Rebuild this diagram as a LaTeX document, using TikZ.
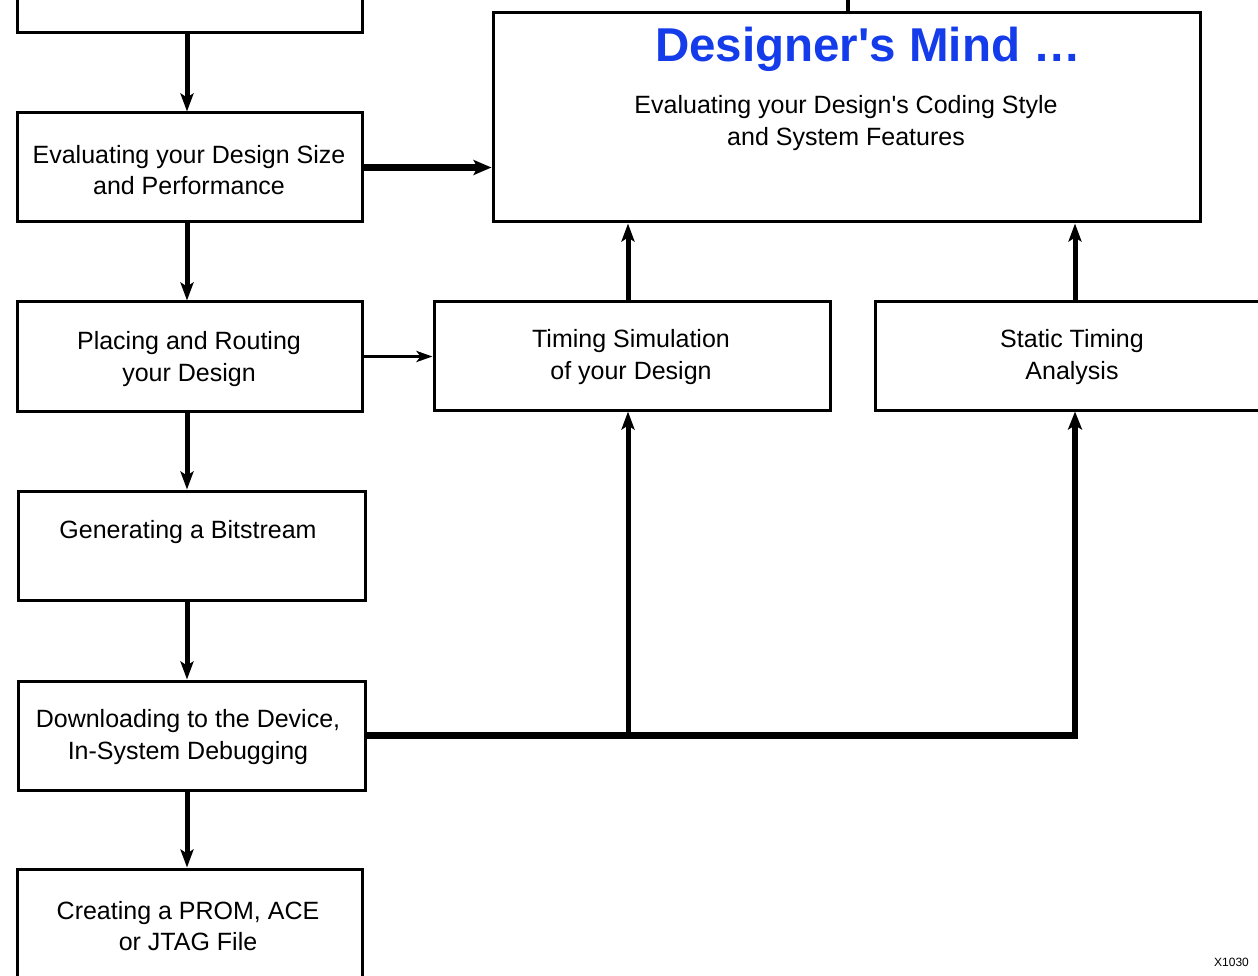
\documentclass[tikz,border=0pt]{standalone}
\usepackage{fontspec}
\setmainfont{Liberation Sans}
\usetikzlibrary{arrows.meta}
\definecolor{titleblue}{RGB}{20,60,235}
\tikzset{
  box/.style={draw, line width=3pt, rectangle, inner sep=0pt},
  txt/.style={align=center, font=\fontsize{25}{31.5}\selectfont, inner sep=0pt},
  tip/.style={-{Stealth[length=18pt,width=13pt,inset=4pt]}},
  arr/.style={line width=5pt, tip},
  bigarr/.style={line width=7pt, -{Stealth[length=18pt,width=15pt,inset=4pt]}},
  bus/.style={line width=6.5pt},
}
\begin{document}
\begin{tikzpicture}[x=1pt,y=-1pt]
\useasboundingbox (0,0) rectangle (1258,976);
\clip (0,0) rectangle (1258,976);
\fill[white] (0,0) rectangle (1258,976);
% boxes
\node[box, minimum width=345pt, minimum height=80pt] (A) at (189.5,-7) {};
\node[box, minimum width=345pt, minimum height=109pt] (B) at (189.5,167.5) {};
\node[box, minimum width=707pt, minimum height=209pt] (Big) at (846.5,117.5) {};
\node[box, minimum width=345pt, minimum height=109pt] (C) at (189.5,356.5) {};
\node[box, minimum width=396pt, minimum height=108pt] (D) at (632,356) {};
\node[box, minimum width=400pt, minimum height=108pt] (E) at (1075,356) {};
\node[box, minimum width=347pt, minimum height=109pt] (F) at (191.5,545.5) {};
\node[box, minimum width=347pt, minimum height=109pt] (G) at (191.5,735.5) {};
\node[box, minimum width=345pt, minimum height=140pt] (H) at (189.5,939) {};
% texts
\node[txt] (tB) at (189,170) {Evaluating your Design Size\\and Performance};
\node[txt] (tBig) at (846,123) {Evaluating your Design\textquotesingle s Coding Style\\and System Features};
\node[font=\bfseries\fontsize{47.5}{52}\selectfont, text=titleblue, inner sep=0pt] (title) at (868,49) {Designer\textquotesingle s Mind \dots};
\node[txt] (tC) at (189,359) {Placing and Routing\\your Design};
\node[txt] (tD) at (631,357) {Timing Simulation\\of your Design};
\node[txt] (tE) at (1072,357) {Static Timing\\Analysis};
\node[txt] (tF) at (188,532) {Generating a Bitstream};
\node[txt] (tG) at (188,737) {Downloading to the Device,\\In-System Debugging};
\node[txt] (tH) at (188,926) {Creating a PROM, ACE\\or JTAG File};
\node[font=\fontsize{12}{14}\selectfont, anchor=west, inner sep=0pt] (code) at (1214,962) {X1030};
% connectors
\draw[line width=3.5pt] (Big.north) ++(1.5,0) coordinate (tick) -- ++(0,-20);
\draw[arr] ([xshift=-2.5pt]A.south) -- ([xshift=-2.5pt]B.north);
\draw[bigarr] (B.east) -- (B.east -| Big.west);
\draw[arr] ([xshift=-2.5pt]B.south) -- ([xshift=-2.5pt]C.north);
\draw[line width=3.5pt, -{Stealth[length=16pt,width=11pt,inset=4pt]}] (C.east) -- (C.east -| D.west);
\draw[arr] ([xshift=-4pt]D.north) -- ([xshift=-4pt]D.north |- Big.south);
\draw[arr] (E.north) -- (E.north |- Big.south);
\draw[arr] ([xshift=-2.5pt]C.south) -- ([xshift=-2.5pt]C.south |- F.north);
\draw[arr] ([xshift=-4.5pt]F.south) -- ([xshift=-4.5pt]G.north);
\draw[arr] ([xshift=-4.5pt]G.south) -- ([xshift=-4.5pt]G.south |- H.north);
\coordinate (busend) at (E.south |- G.east);
\draw[bus, -{Stealth[length=18pt,width=14pt,inset=4pt]}] (G.east) -- (busend) -- (E.south);
\draw[arr] ([xshift=-4pt]D.south |- G.east) -- ([xshift=-4pt]D.south);
\end{tikzpicture}
\end{document}
